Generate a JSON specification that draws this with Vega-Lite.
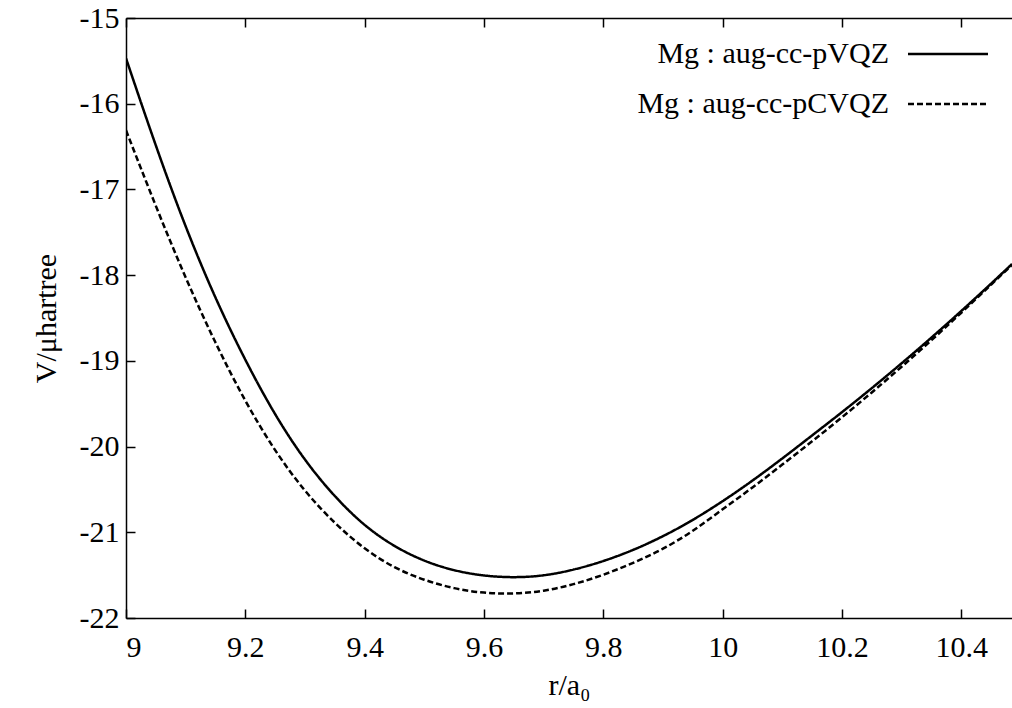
{
  "$schema": "https://vega.github.io/schema/vega-lite/v6.json",
  "width": 886,
  "height": 600,
  "autosize": {"type": "none"},
  "padding": {"left": 126, "top": 18, "right": 0, "bottom": 90},
  "background": "white",
  "config": {
    "view": {"stroke": null},
    "font": "Liberation Serif, Times New Roman, serif",
    "axis": {
      "grid": false,
      "domainColor": "black",
      "domainWidth": 1.5,
      "tickColor": "black",
      "tickWidth": 1.5,
      "tickSize": -9,
      "labelFont": "Liberation Serif, Times New Roman, serif",
      "labelFontSize": 30,
      "labelColor": "black",
      "titleFont": "Liberation Serif, Times New Roman, serif",
      "titleFontSize": 30,
      "titleFontWeight": "normal",
      "titleColor": "black"
    }
  },
  "data": {
    "values": [
      {"r": 9.00, "V": -15.47, "basis": "Mg : aug-cc-pVQZ"},
      {"r": 9.05, "V": -16.50, "basis": "Mg : aug-cc-pVQZ"},
      {"r": 9.10, "V": -17.45, "basis": "Mg : aug-cc-pVQZ"},
      {"r": 9.15, "V": -18.28, "basis": "Mg : aug-cc-pVQZ"},
      {"r": 9.20, "V": -19.00, "basis": "Mg : aug-cc-pVQZ"},
      {"r": 9.25, "V": -19.64, "basis": "Mg : aug-cc-pVQZ"},
      {"r": 9.30, "V": -20.17, "basis": "Mg : aug-cc-pVQZ"},
      {"r": 9.35, "V": -20.59, "basis": "Mg : aug-cc-pVQZ"},
      {"r": 9.40, "V": -20.93, "basis": "Mg : aug-cc-pVQZ"},
      {"r": 9.45, "V": -21.17, "basis": "Mg : aug-cc-pVQZ"},
      {"r": 9.50, "V": -21.34, "basis": "Mg : aug-cc-pVQZ"},
      {"r": 9.55, "V": -21.45, "basis": "Mg : aug-cc-pVQZ"},
      {"r": 9.60, "V": -21.51, "basis": "Mg : aug-cc-pVQZ"},
      {"r": 9.65, "V": -21.53, "basis": "Mg : aug-cc-pVQZ"},
      {"r": 9.70, "V": -21.51, "basis": "Mg : aug-cc-pVQZ"},
      {"r": 9.75, "V": -21.44, "basis": "Mg : aug-cc-pVQZ"},
      {"r": 9.80, "V": -21.34, "basis": "Mg : aug-cc-pVQZ"},
      {"r": 9.85, "V": -21.21, "basis": "Mg : aug-cc-pVQZ"},
      {"r": 9.90, "V": -21.05, "basis": "Mg : aug-cc-pVQZ"},
      {"r": 9.95, "V": -20.86, "basis": "Mg : aug-cc-pVQZ"},
      {"r": 10.00, "V": -20.64, "basis": "Mg : aug-cc-pVQZ"},
      {"r": 10.05, "V": -20.40, "basis": "Mg : aug-cc-pVQZ"},
      {"r": 10.10, "V": -20.14, "basis": "Mg : aug-cc-pVQZ"},
      {"r": 10.15, "V": -19.87, "basis": "Mg : aug-cc-pVQZ"},
      {"r": 10.20, "V": -19.60, "basis": "Mg : aug-cc-pVQZ"},
      {"r": 10.25, "V": -19.32, "basis": "Mg : aug-cc-pVQZ"},
      {"r": 10.30, "V": -19.03, "basis": "Mg : aug-cc-pVQZ"},
      {"r": 10.35, "V": -18.73, "basis": "Mg : aug-cc-pVQZ"},
      {"r": 10.40, "V": -18.42, "basis": "Mg : aug-cc-pVQZ"},
      {"r": 10.45, "V": -18.10, "basis": "Mg : aug-cc-pVQZ"},
      {"r": 10.485, "V": -17.87, "basis": "Mg : aug-cc-pVQZ"},
      {"r": 9.00, "V": -16.31, "basis": "Mg : aug-cc-pCVQZ"},
      {"r": 9.05, "V": -17.20, "basis": "Mg : aug-cc-pCVQZ"},
      {"r": 9.10, "V": -18.04, "basis": "Mg : aug-cc-pCVQZ"},
      {"r": 9.15, "V": -18.80, "basis": "Mg : aug-cc-pCVQZ"},
      {"r": 9.20, "V": -19.48, "basis": "Mg : aug-cc-pCVQZ"},
      {"r": 9.25, "V": -20.06, "basis": "Mg : aug-cc-pCVQZ"},
      {"r": 9.30, "V": -20.53, "basis": "Mg : aug-cc-pCVQZ"},
      {"r": 9.35, "V": -20.90, "basis": "Mg : aug-cc-pCVQZ"},
      {"r": 9.40, "V": -21.20, "basis": "Mg : aug-cc-pCVQZ"},
      {"r": 9.45, "V": -21.42, "basis": "Mg : aug-cc-pCVQZ"},
      {"r": 9.50, "V": -21.56, "basis": "Mg : aug-cc-pCVQZ"},
      {"r": 9.55, "V": -21.66, "basis": "Mg : aug-cc-pCVQZ"},
      {"r": 9.60, "V": -21.71, "basis": "Mg : aug-cc-pCVQZ"},
      {"r": 9.65, "V": -21.72, "basis": "Mg : aug-cc-pCVQZ"},
      {"r": 9.70, "V": -21.69, "basis": "Mg : aug-cc-pCVQZ"},
      {"r": 9.75, "V": -21.61, "basis": "Mg : aug-cc-pCVQZ"},
      {"r": 9.80, "V": -21.50, "basis": "Mg : aug-cc-pCVQZ"},
      {"r": 9.85, "V": -21.36, "basis": "Mg : aug-cc-pCVQZ"},
      {"r": 9.90, "V": -21.20, "basis": "Mg : aug-cc-pCVQZ"},
      {"r": 9.95, "V": -20.99, "basis": "Mg : aug-cc-pCVQZ"},
      {"r": 10.00, "V": -20.73, "basis": "Mg : aug-cc-pCVQZ"},
      {"r": 10.05, "V": -20.48, "basis": "Mg : aug-cc-pCVQZ"},
      {"r": 10.10, "V": -20.21, "basis": "Mg : aug-cc-pCVQZ"},
      {"r": 10.15, "V": -19.94, "basis": "Mg : aug-cc-pCVQZ"},
      {"r": 10.20, "V": -19.66, "basis": "Mg : aug-cc-pCVQZ"},
      {"r": 10.25, "V": -19.37, "basis": "Mg : aug-cc-pCVQZ"},
      {"r": 10.30, "V": -19.07, "basis": "Mg : aug-cc-pCVQZ"},
      {"r": 10.35, "V": -18.76, "basis": "Mg : aug-cc-pCVQZ"},
      {"r": 10.40, "V": -18.44, "basis": "Mg : aug-cc-pCVQZ"},
      {"r": 10.45, "V": -18.11, "basis": "Mg : aug-cc-pCVQZ"},
      {"r": 10.485, "V": -17.88, "basis": "Mg : aug-cc-pCVQZ"}
    ]
  },
  "layer": [
    {
      "mark": {"type": "line", "clip": true, "strokeWidth": 2.5, "color": "black", "interpolate": "basis"},
      "encoding": {
        "x": {
          "field": "r", "type": "quantitative",
          "scale": {"domain": [9, 10.485], "nice": false, "zero": false},
          "axis": {"orient": "bottom", "values": [9, 9.2, 9.4, 9.6, 9.8, 10, 10.2, 10.4], "labelExpr": "'' + datum.value", "title": "r/a₀", "labelPadding": 23, "titlePadding": 8}
        },
        "y": {
          "field": "V", "type": "quantitative",
          "scale": {"domain": [-22, -15], "nice": false, "zero": false},
          "axis": {"orient": "left", "values": [-22, -21, -20, -19, -18, -17, -16, -15], "labelExpr": "'' + datum.value", "title": "V/μhartree", "labelPadding": 16, "titlePadding": 18}
        },
        "strokeDash": {
          "field": "basis", "type": "nominal",
          "scale": {"domain": ["Mg : aug-cc-pVQZ", "Mg : aug-cc-pCVQZ"], "range": [[1, 0], [6, 3]]},
          "legend": {
            "orient": "none", "legendX": 807, "legendY": 21,
            "title": null, "padding": 0,
            "symbolType": "M-4,0H4", "symbolSize": 400, "symbolStrokeWidth": 2.5, "symbolStrokeColor": "black",
            "labelFont": "Liberation Serif, Times New Roman, serif", "labelFontSize": 30, "labelColor": "black",
            "labelAlign": "right", "labelOffset": -74, "labelLimit": 400, "rowPadding": 20
          }
        }
      }
    },
    {
      "mark": {"type": "line", "opacity": 0},
      "encoding": {
        "x": {
          "field": "r", "type": "quantitative",
          "axis": {"orient": "top", "values": [9, 9.2, 9.4, 9.6, 9.8, 10, 10.2, 10.4], "labels": false, "title": null}
        },
        "y": {"field": "V", "type": "quantitative", "axis": null},
        "detail": {"field": "basis", "type": "nominal"}
      }
    }
  ],
  "resolve": {"axis": {"x": "independent", "y": "independent"}}
}
